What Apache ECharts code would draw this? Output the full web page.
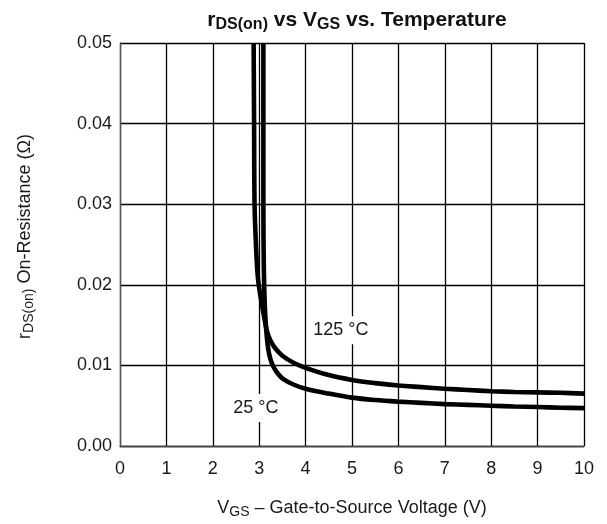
<!DOCTYPE html>
<html>
<head>
<meta charset="utf-8">
<script src="https://cdn.jsdelivr.net/npm/echarts@6/dist/echarts.min.js"></script>
<style>html,body{margin:0;padding:0;background:#fff;}#c{width:607px;height:524px;}</style>
</head>
<body>
<div id="c"></div>
<script>
// Data
var xTicks = [0,1,2,3,4,5,6,7,8,9,10];
var yTicks = ['0.00','0.01','0.02','0.03','0.04','0.05'];
var vgs125 = [2.88, 2.89, 2.90, 2.93, 2.97, 3.03, 3.10, 3.17, 3.25, 3.35, 3.5, 3.75, 4.0, 4.5, 5.0, 5.5, 6.0, 6.5, 7.0, 7.5, 8.0, 8.5, 9.0, 9.5, 10.0];
var rds125 = [0.050, 0.040, 0.030, 0.025, 0.021, 0.0185, 0.0162, 0.0142, 0.0130, 0.0121, 0.0112, 0.0103, 0.0097, 0.0088, 0.0082, 0.0078, 0.0075, 0.0073, 0.0071, 0.00695, 0.0068, 0.0067, 0.00665, 0.0066, 0.0065];
var vgs25 = [3.09, 3.09, 3.09, 3.10, 3.12, 3.15, 3.19, 3.24, 3.31, 3.40, 3.52, 3.75, 4.0, 4.5, 5.0, 5.5, 6.0, 6.5, 7.0, 7.5, 8.0, 8.5, 9.0, 9.5, 10.0];
var rds25 = [0.050, 0.040, 0.030, 0.022, 0.0175, 0.0145, 0.0122, 0.0108, 0.0098, 0.0090, 0.0083, 0.0076, 0.0071, 0.0065, 0.0060, 0.0057, 0.0055, 0.00535, 0.0052, 0.0051, 0.0050, 0.0049, 0.00483, 0.00475, 0.0047];
var seriesNames = ['125°C', '25°C'];
var labelPos = [[4.76, 0.01436], [2.93, 0.0047]];

function pairs(xs, ys){ return xs.map(function(x,i){ return [x, ys[i]]; }); }

var FONT = 'Liberation Sans, Arial, Helvetica, sans-serif';
var chart = echarts.init(document.getElementById('c'), null, {renderer:'canvas'});
function curve(name, data, lp){
  return {
    type:'line', name:name, data:data, showSymbol:false, smooth:0.35,
    lineStyle:{color:'#000', width:4.6}, z:3, silent:true,
    markPoint:{
      symbol:'rect', symbolSize:0, silent:true,
      data:[{coord:lp, value:name}],
      label:{show:true, position:'inside', formatter:name.replace('°', ' °'), color:'#1a1a1a',
        fontFamily:FONT, fontSize:18, backgroundColor:'#fff', padding:[5,3,5,3]}
    }
  };
}
chart.setOption({
  animation:false,
  backgroundColor:'#fff',
  title:{
    text:'{n|r}{s|DS(on)}{n| vs V}{s|GS}{n| vs. Temperature}',
    left:352, top:3, textAlign:'center',
    textStyle:{rich:{
      n:{fontFamily:FONT, fontWeight:'bold', fontSize:21, color:'#111'},
      s:{fontFamily:FONT, fontWeight:'bold', fontSize:16, color:'#111', padding:[9,0,0,0]}
    }}
  },
  grid:{left:120, right:23, top:43, bottom:77, containLabel:false},
  xAxis:{
    type:'value', min:0, max:10, interval:1,
    axisLine:{show:true, lineStyle:{color:'#444', width:1.3}},
    axisTick:{show:false},
    axisLabel:{color:'#1a1a1a', fontFamily:FONT, fontSize:18, margin:14,
      formatter:function(v){ return xTicks.indexOf(v) >= 0 ? String(v) : ''; }},
    splitLine:{show:true, lineStyle:{color:'#000', width:1.3}},
    name:'{n|V}{s|GS}{n| – Gate-to-Source Voltage (V)}',
    nameLocation:'middle', nameGap:51,
    nameTextStyle:{rich:{
      n:{fontFamily:FONT, fontSize:18, color:'#1a1a1a'},
      s:{fontFamily:FONT, fontSize:14, color:'#1a1a1a', padding:[8,0,0,0]}
    }}
  },
  yAxis:{
    type:'value', min:0, max:0.05, interval:0.01,
    axisLine:{show:true, lineStyle:{color:'#555', width:1.3}},
    axisTick:{show:false},
    axisLabel:{color:'#1a1a1a', fontFamily:FONT, fontSize:18, margin:8,
      formatter:function(v){ return yTicks[Math.round(v/0.01)]; }},
    splitLine:{show:true, lineStyle:{color:'#000', width:1.3}},
    name:'{f|r}{s|DS(on)}{n| On-Resistance (Ω)}',
    nameLocation:'middle', nameGap:84,
    nameTextStyle:{rich:{
      f:{fontFamily:FONT, fontSize:18, color:'#1a1a1a', padding:[0,0,0,16]},
      n:{fontFamily:FONT, fontSize:18, color:'#1a1a1a'},
      s:{fontFamily:FONT, fontSize:14, color:'#1a1a1a', padding:[8,0,0,0]}
    }}
  },
  series:[
    curve(seriesNames[0], pairs(vgs125, rds125), labelPos[0]),
    curve(seriesNames[1], pairs(vgs25, rds25), labelPos[1])
  ]
});
</script>
</body>
</html>
